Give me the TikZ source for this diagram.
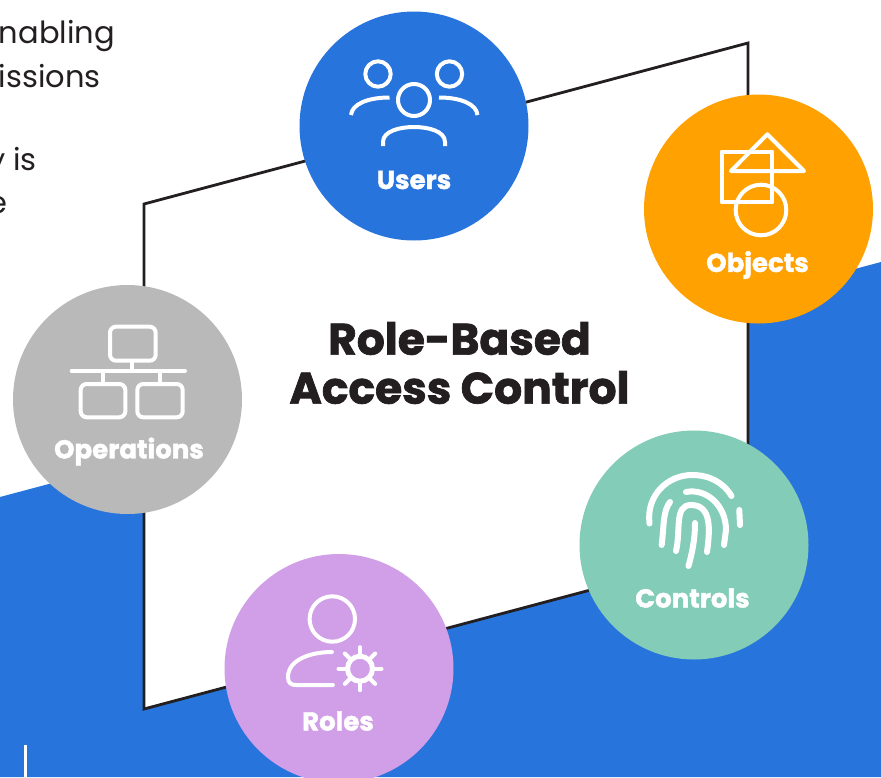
\documentclass[tikz,border=0pt]{standalone}
\usepackage{fontspec}
\setmainfont{Poppins}
\newfontfamily\heavyfont[FakeBold=1.6]{Poppins Bold}
\definecolor{fondbleu}{HTML}{2874DD}
\definecolor{orangeobj}{HTML}{FFA100}
\definecolor{vertctl}{HTML}{83CCB8}
\definecolor{mauverole}{HTML}{D19EE8}
\definecolor{grisop}{HTML}{B9B9B9}
\definecolor{encre}{HTML}{231F20}

\begin{document}
\begin{tikzpicture}[
    x=1pt, y=-1pt,
    bulle/.style={circle, minimum size=229pt, inner sep=0pt},
    nomb/.style={text=white, inner sep=0pt, font=\heavyfont\fontsize{26}{30}\selectfont},
    icone/.style={draw=white, line width=4pt, line join=round},
    empreinte/.style={draw=white, line width=6pt, line cap=round},
    bord/.style={draw=encre, line width=2.8pt, fill=white, line join=miter},
    texte/.style={text=encre, inner sep=0pt, anchor=base east, font=\fontsize{30.5}{34}\selectfont}
  ]
  \useasboundingbox (0,0) rectangle (881,777);
  \fill[fondbleu] (0,497) -- (881,262) -- (881,777) -- (0,777) -- cycle;
  \draw[white, line width=3pt] (25,745) -- (25,777);

  % bits of text cut by the left edge
  \begin{scope}
    \clip (0,0) rectangle (881,777);
    \path (115,43) node(ta) [texte] {nabling}
      (101,87) node(tb) [texte] {issions}
      (37,170) node(tc) [texte] {y is}
      (8,213) node(td) [texte] {e};
  \end{scope}

  \draw[bord] (144,204) -- (748,43) -- (748,548) -- (144,709) -- cycle;
  \path (459.5,363) node(titre) [text=encre, align=center, inner sep=0pt,
    font=\heavyfont\fontsize{44}{49}\selectfont] {Role-Based\\Access Control};

  \path (414,126) node(users) [bulle, fill=fondbleu] {}
    (758.5,209) node(objects) [bulle, fill=orangeobj] {}
    (694,545) node(controls) [bulle, fill=vertctl] {}
    (339,668.5) node(roles) [bulle, fill=mauverole] {}
    (127.5,399.5) node(operations) [bulle, fill=grisop] {};

  \path (414,180) node(lusers) [nomb] {Users}
    (757.5,265) node(lobjects) [nomb] {Objects}
    (692.5,598) node(lcontrols) [nomb] {Controls}
    (338,721) node(lroles) [nomb] {Roles}
    (129,451.5) node(loperations) [nomb] {Operations};

  % users
  \draw[icone] (378,74) circle (12.7) (449.5,74) circle (12.7) (414,100) circle (16);
  \draw[icone] (383,146) -- (383,142) .. controls (383,131) and (400,127) .. (414,127)
    .. controls (428,127) and (445,131) .. (445,142) -- (445,146);
  \draw[icone] (351,115) .. controls (352,104) and (368,97.5) .. (389.5,97.5);
  \draw[icone] (477.5,115) .. controls (476.5,104) and (460.5,97.5) .. (439,97.5);

  % objects
  \draw[icone] (721.7,151.7) rectangle (772.3,202.3);
  \draw[icone] (767.3,134.3) -- (804,171) -- (731,171) -- cycle;
  \draw[icone] (761,210) circle (25.3);

  % controls
  \draw[empreinte] (649.5,523.5) .. controls (646,495) and (668,475) .. (692,475)
    .. controls (709,475) and (723,482) .. (731.5,496);
  \draw[empreinte] (739.3,510) -- (740,525);
  \draw[empreinte] (686,492) .. controls (706,488) and (726,505) .. (726,530) -- (724,545);
  \draw[empreinte] (670,502) .. controls (663,511) and (664,525) .. (661.7,545);
  \draw[empreinte] (676,551) .. controls (681,530) and (674,505) .. (691,505)
    .. controls (712,505) and (710,530) .. (707,552);
  \draw[empreinte] (695,523) .. controls (695,540) and (692,553) .. (688.5,566);

  % roles
  \draw[icone] (332.3,619) circle (22.7);
  \draw[icone, line cap=round] (332,652) .. controls (310,652) and (288,660) .. (288,677)
    .. controls (288,683) and (291,685) .. (296,685) -- (333,685);
  \draw[icone, line width=5pt] (360,668.7) circle (12.5);
  \foreach \a in {0,45,...,315}
    \draw[icone, line cap=round, shift={(360,668.7)}] (\a:15) -- (\a:21.5);

  % operations
  \draw[icone, rounded corners=6pt] (110,326.7) rectangle (155.7,360.7);
  \draw[icone, rounded corners=6pt] (80.7,384) rectangle (125.3,417.3);
  \draw[icone, rounded corners=6pt] (137.3,384) rectangle (182.7,417.3);
  \draw[icone, line cap=round] (71.7,371) -- (185,371);
  \draw[icone] (132.3,361) -- (132.3,371) (103.3,371) -- (103.3,384) (160,371) -- (160,384);
\end{tikzpicture}
\end{document}
